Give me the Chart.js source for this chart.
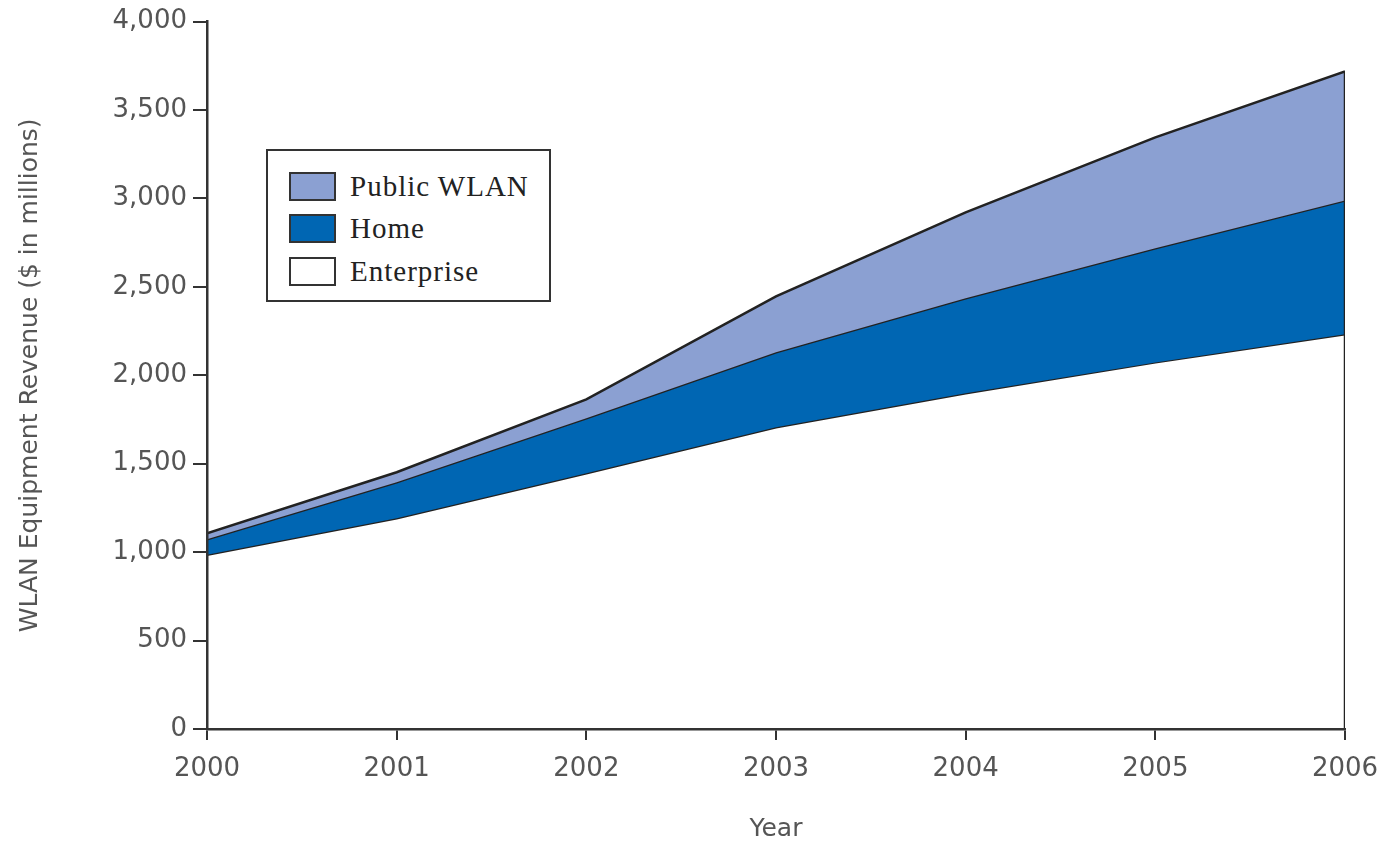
<!DOCTYPE html>
<html>
<head>
<meta charset="utf-8">
<script src="https://cdn.jsdelivr.net/npm/chart.js@4/dist/chart.umd.min.js"></script>
<style>
  html, body { margin: 0; padding: 0; background: #fff; }
  #wrap { position: relative; width: 1394px; height: 844px; }
  #legend {
    position: absolute; left: 266px; top: 149px; width: 281px; height: 149px;
    border: 2px solid #333; background: #fff; box-sizing: content-box;
  }
  .item { position: absolute; left: 21px; height: 27px; display: flex; align-items: center; }
  .sw { width: 43px; height: 25px; border: 2px solid #333; box-sizing: content-box; }
  .lbl { margin-left: 14px; font-family: "Liberation Serif", "DejaVu Serif", serif; font-size: 29px; letter-spacing: 1px; color: #222; }
</style>
</head>
<body>
<div id="wrap">
  <canvas id="c" width="1394" height="844"></canvas>
  <div id="legend"></div>
</div>
<script>
const years = [2000, 2001, 2002, 2003, 2004, 2005, 2006];
const seriesNames = ["Enterprise", "Home", "Public WLAN"];
const enterprise = [985, 1192, 1446, 1706, 1898, 2073, 2232];
const home = [88, 203, 311, 424, 537, 645, 757];
const publicWlan = [34, 57, 107, 316, 486, 627, 729];
const seriesColors = ["#ffffff", "#0066b3", "#8ba0d2"];
const yTicks = [0, 500, 1000, 1500, 2000, 2500, 3000, 3500, 4000];
const yTitle = "WLAN Equipment Revenue ($ in millions)";
const xTitle = "Year";

const seriesValues = [enterprise, home, publicWlan];
const cumulative = [];
seriesValues.forEach((vals, i) => {
  cumulative.push(vals.map((v, j) => v + (i > 0 ? cumulative[i - 1][j] : 0)));
});

const lineColor = "#222";
const datasets = seriesNames.map((name, i) => ({
  label: name,
  data: years.map((y, j) => ({ x: y, y: cumulative[i][j] })),
  backgroundColor: seriesColors[i],
  borderColor: lineColor,
  borderWidth: 2.5,
  fill: i === 0 ? 'origin' : '-1',
  pointRadius: 0,
  tension: 0,
  order: seriesNames.length - i
}));
// right edge of the stacked area
const lastIdx = years.length - 1;
datasets.push({
  label: "edge",
  data: [{ x: years[lastIdx], y: 0 }, { x: years[lastIdx], y: cumulative[cumulative.length - 1][lastIdx] }],
  borderColor: lineColor,
  borderWidth: 2.5,
  fill: false,
  pointRadius: 0,
  order: 0
});

// HTML legend (Public WLAN, Home, Enterprise)
const legend = document.getElementById('legend');
const legendTops = [22, 64, 107];
[2, 1, 0].forEach((si, k) => {
  const it = document.createElement('div');
  it.className = 'item';
  it.style.top = legendTops[k] + 'px';
  const sw = document.createElement('div');
  sw.className = 'sw';
  sw.style.background = seriesColors[si];
  const lb = document.createElement('span');
  lb.className = 'lbl';
  lb.textContent = seriesNames[si];
  it.appendChild(sw); it.appendChild(lb);
  legend.appendChild(it);
});

const tickFont = { family: "DejaVu Sans", size: 26 };
const axisColor = "#333";

new Chart(document.getElementById('c'), {
  type: 'line',
  data: { datasets },
  options: {
    responsive: false,
    animation: false,
    layout: { padding: { top: 21, right: 49, left: 0, bottom: 0 } },
    plugins: { legend: { display: false }, tooltip: { enabled: false } },
    scales: {
      x: {
        type: 'linear',
        min: years[0], max: years[lastIdx],
        afterBuildTicks: (s) => { s.ticks = years.map(v => ({ value: v })); },
        afterFit: (s) => { s.height = 115; },
        ticks: { font: tickFont, color: "#555", padding: 14, callback: (v) => String(v), maxRotation: 0 },
        grid: { drawOnChartArea: false, drawTicks: true, tickLength: 11, color: axisColor, lineWidth: 2 },
        border: { display: true, color: axisColor, width: 2.5, z: 1 },
        title: { display: true, text: xTitle, font: { family: "DejaVu Sans", size: 25 }, color: "#555", padding: { top: 0, bottom: 0 } }
      },
      y: {
        min: 0, max: 4000,
        afterBuildTicks: (s) => { s.ticks = yTicks.map(v => ({ value: v })); },
        afterFit: (s) => { s.width = 207; },
        ticks: { font: tickFont, color: "#555", padding: 6, callback: (v) => v.toLocaleString('en-US') },
        grid: { drawOnChartArea: false, drawTicks: true, tickLength: 14, color: axisColor, lineWidth: 2 },
        border: { display: true, color: axisColor, width: 2.5, z: 1 },
        title: { display: true, text: yTitle, font: { family: "DejaVu Sans", size: 25 }, color: "#555", padding: { top: 15, bottom: 0 } }
      }
    }
  }
});
</script>
</body>
</html>
